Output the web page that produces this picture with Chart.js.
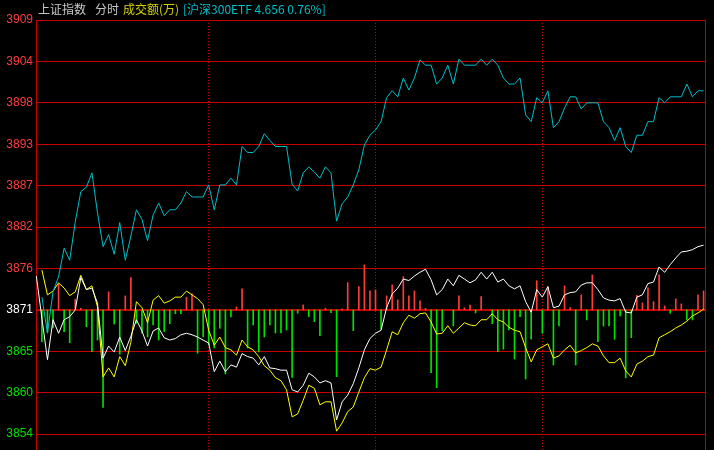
<!DOCTYPE html>
<html>
<head>
<meta charset="utf-8">
<script src="https://cdn.jsdelivr.net/npm/chart.js@4.4.0/dist/chart.umd.min.js"></script>
<style>
  html, body { margin: 0; padding: 0; background: #000; }
  #wrap { position: relative; width: 714px; height: 450px; }
  #chart { display: block; }
  #hdr { position: absolute; left: 0; top: 1px; font: 12px "Noto Sans CJK SC", sans-serif; line-height: 16px; white-space: nowrap; }
  #hdr span { position: absolute; top: 0; }
</style>
</head>
<body>
<div id="wrap">
  <canvas id="chart" width="714" height="450"></canvas>
  <div id="hdr">
    <span style="left:38px;color:#c8c8c8">上证指数</span>
    <span style="left:95px;color:#c8c8c8">分时</span>
    <span style="left:123px;color:#d2d200">成交额(万)</span>
    <span style="left:183px;color:#00bec8">[沪深300ETF 4.656 0.76%]</span>
  </div>
</div>
<script>
/* ================= DATA ================= */

// previous close and the step between price lines
const MID = 3871;
const STEP = 5.5;
const Y_MIN = 3852.4;
const Y_MAX = 3909.5;

const yTickLabels = ["3854", "3860", "3865", "3871", "3876", "3882", "3887", "3893", "3898", "3904", "3909"];

// sample index (2 min each) where the hour separators sit
const hourTicks = [31, 61, 91];

// 上证指数 (white)
const indexLine = [
  3875.5, 3869.9, 3864.4, 3869.7, 3867.9, 3869.7, 3870.1, 3871.0, 3875.3, 3873.7,
  3873.9, 3871.9, 3864.6, 3866.2, 3865.4, 3867.4, 3865.6, 3867.5, 3869.7, 3868.2,
  3866.2, 3868.2, 3868.6, 3867.3, 3867.0, 3867.2, 3867.7, 3867.9, 3867.7, 3867.4,
  3867.0, 3866.6, 3862.8, 3864.2, 3862.8, 3863.7, 3863.4, 3865.2, 3864.8, 3864.6,
  3863.7, 3864.8, 3863.3, 3863.2, 3863.0, 3863.0, 3860.4, 3860.1, 3861.0, 3862.6,
  3862.1, 3861.3, 3861.6, 3861.3, 3856.4, 3858.8, 3859.7, 3861.2, 3863.3, 3865.7,
  3867.2, 3867.9, 3868.3, 3871.3, 3873.1, 3873.9, 3875.1, 3874.9, 3875.5, 3876.0,
  3876.4, 3875.0, 3873.0, 3873.7, 3875.1, 3874.2, 3875.6, 3875.1, 3874.6, 3875.0,
  3876.0, 3875.1, 3876.0, 3874.7, 3875.1, 3874.2, 3873.8, 3874.2, 3872.1, 3870.7,
  3873.7, 3872.7, 3874.1, 3871.3, 3871.5, 3873.0, 3873.3, 3873.4, 3874.3, 3874.6,
  3874.6, 3873.7, 3872.6, 3872.3, 3872.2, 3872.5, 3870.7, 3870.6, 3872.7, 3873.0,
  3874.5, 3874.7, 3876.7, 3876.0, 3877.0, 3877.9, 3878.7, 3878.8, 3879.0, 3879.4,
  3879.6
];

// average price (yellow)
const avgLine = [
  null, 3876.3, 3873.0, 3873.5, 3874.6, 3873.9, 3872.9, 3873.4, 3875.6, 3873.7,
  3874.2, 3871.4, 3862.1, 3863.3, 3862.1, 3864.8, 3863.6, 3866.7, 3872.1, 3871.3,
  3869.3, 3872.3, 3872.9, 3871.9, 3872.2, 3872.7, 3872.7, 3873.5, 3873.0, 3872.5,
  3871.7, 3868.3, 3866.3, 3867.4, 3866.0, 3865.7, 3865.0, 3867.0, 3866.1, 3865.7,
  3864.8, 3863.6, 3863.0, 3862.0, 3861.6, 3860.4, 3856.8, 3857.2, 3859.0, 3861.0,
  3860.6, 3858.4, 3858.8, 3858.8, 3854.9, 3856.0, 3857.5, 3858.1, 3860.1, 3862.0,
  3863.2, 3863.0, 3863.4, 3865.7, 3868.1, 3867.7, 3869.3, 3870.3, 3869.9, 3870.5,
  3870.6, 3869.4, 3867.8, 3867.9, 3868.9, 3867.9, 3868.6, 3869.3, 3869.0, 3868.9,
  3869.7, 3869.7, 3870.5, 3869.7, 3869.4, 3868.7, 3868.3, 3868.1, 3866.0, 3864.1,
  3865.7, 3866.1, 3866.5, 3864.6, 3864.9, 3865.7, 3866.3, 3865.3, 3865.6, 3866.0,
  3866.5, 3866.2, 3864.9, 3864.0, 3864.0, 3864.6, 3862.9, 3862.1, 3863.8, 3864.2,
  3864.8, 3865.0, 3867.3, 3867.7, 3868.1, 3868.6, 3869.0, 3869.5, 3870.2, 3870.6,
  3871.1
];

// 沪深300ETF mapped onto the index scale (cyan)
const etfLine = [
  null, 3872.7, 3867.9, 3873.4, 3875.4, 3879.2, 3877.6, 3882.7, 3886.7, 3887.3,
  3889.2, 3883.9, 3879.4, 3881.0, 3878.4, 3882.6, 3877.6, 3880.8, 3884.3, 3883.0,
  3880.2, 3883.6, 3885.2, 3883.5, 3884.3, 3884.3, 3885.2, 3886.7, 3886.0, 3886.0,
  3886.0, 3887.6, 3884.3, 3887.6, 3887.6, 3888.5, 3887.6, 3892.7, 3891.9, 3891.9,
  3892.7, 3894.4, 3893.5, 3892.7, 3892.7, 3892.7, 3887.7, 3886.8, 3889.2, 3890.0,
  3889.3, 3888.5, 3890.0, 3889.2, 3882.8, 3885.1, 3886.0, 3887.6, 3889.6, 3892.9,
  3894.2, 3894.9, 3896.0, 3899.2, 3900.1, 3899.3, 3901.8, 3900.2, 3901.8, 3904.2,
  3903.5, 3903.5, 3901.0, 3901.8, 3903.5, 3901.0, 3904.3, 3903.5, 3903.5, 3903.5,
  3904.3, 3903.5, 3904.3, 3903.5, 3901.8, 3901.0, 3901.0, 3901.8, 3896.9, 3896.0,
  3899.2, 3898.5, 3900.1, 3895.2, 3896.0, 3897.8, 3899.3, 3899.3, 3897.7, 3898.5,
  3898.5, 3898.5, 3896.0, 3895.2, 3893.5, 3895.2, 3892.7, 3891.9, 3894.2, 3894.2,
  3896.0, 3896.0, 3899.2, 3898.5, 3899.3, 3899.3, 3899.3, 3901.0, 3899.3, 3900.1,
  3900.1
];

// red / green strength bars, offset from MID
const barDiffs = [
  0, -4.21, -2.92, -2.39, 3.45, -2.88, -4.34, 1.42, 0.23, -2.22,
  -5.54, -3.99, -12.93, 2.39, -1.86, -5.89, 1.86, 4.29, -1.79, -3.10,
  -3.59, -1.99, -3.99, -2.88, -1.82, -0.49, -0.49, 1.66, 2.13, -5.75,
  -3.59, -4.65, -5.05, -2.43, -8.50, -0.93, 0.40, 2.79, -5.05, -1.99,
  -5.58, -3.59, -1.99, -3.06, -3.06, -2.66, -8.97, -0.44, 0.66, -0.89,
  -1.55, -3.41, 0.23, -0.36, -8.86, 0.13, 3.63, -2.75, 3.10, 5.98,
  2.52, 2.66, -2.52, 1.86, 3.32, 1.33, 4.42, 1.86, 2.52, 1.20,
  0.20, -8.33, -10.32, -2.79, 0, -2.13, 1.86, 0.27, 0.66, -0.40,
  1.77, 0, -1.82, -5.54, -5.22, -2.66, -6.51, -0.89, -9.17, -3.88,
  3.88, -3.10, 3.06, -7.31, -2.13, 3.19, 0.31, -7.31, 1.99, -1.33,
  4.65, -4.21, -2.13, -2.13, -3.89, -0.80, -9.03, -3.68, 1.93, 0.93,
  2.92, 1.10, 4.65, 0.53, -0.44, 1.46, 0.80, -1.33, -1.33, 1.99,
  2.52
];

/* ================= CHART ================= */

const GRID = "#c80000";
const RED = "#ff3c3c";
const GREEN = "#00e100";
const CYAN = "#00bec8";

const toXY = arr => arr.map((v, i) => ({ x: i, y: v }));

const bars = barDiffs
  .map((d, i) => ({ x: i, y: [MID, MID + d] }))
  .filter(p => p.y[1] !== MID);

const yTicks = yTickLabels.map((_, k) => MID + (k - 3) * STEP);

const lineStyle = { borderWidth: 1, pointRadius: 0, tension: 0, fill: false };

new Chart(document.getElementById("chart"), {
  type: "bar",
  data: {
    datasets: [
      { type: "line", label: "沪深300ETF", data: toXY(etfLine), borderColor: CYAN, order: 0, ...lineStyle },
      { type: "line", label: "上证指数", data: toXY(indexLine), borderColor: "#ffffff", order: 1, ...lineStyle },
      { type: "line", label: "均价", data: toXY(avgLine), borderColor: "#ffff00", order: 2, ...lineStyle },
      {
        type: "bar",
        label: "强弱",
        data: bars,
        backgroundColor: c => (c.raw && c.raw.y[1] >= MID ? RED : GREEN),
        borderWidth: 0,
        barThickness: 1,
        order: 3
      }
    ]
  },
  options: {
    responsive: false,
    animation: false,
    layout: { padding: { top: 20, right: 0, bottom: 0, left: 0 } },
    plugins: { legend: { display: false }, tooltip: { enabled: false } },
    scales: {
      x: {
        type: "linear",
        min: -0.06,
        max: 120.26,
        offset: false,
        grid: { offset: false, color: GRID, lineWidth: 1, drawTicks: false },
        border: { display: false, dash: [1, 2] },
        ticks: { display: false },
        afterBuildTicks: s => { s.ticks = hourTicks.map(v => ({ value: v })); },
        afterFit: s => { s.height = 0; s.paddingLeft = 0; s.paddingRight = 0; }
      },
      y: {
        type: "linear",
        position: "left",
        min: Y_MIN,
        max: Y_MAX,
        beginAtZero: false,
        grid: {
          color: GRID,
          drawTicks: false,
          lineWidth: c => (c.tick && c.tick.value === MID ? 2 : 1)
        },
        border: { display: true, color: GRID, width: 1 },
        ticks: {
          padding: 3,
          autoSkip: false,
          font: { family: '"Liberation Sans", Arial, sans-serif', size: 12 },
          color: c => (c.tick.value > MID ? RED : c.tick.value < MID ? GREEN : "#ffffff"),
          callback: (v, i) => yTickLabels[i]
        },
        afterBuildTicks: s => { s.ticks = yTicks.map(v => ({ value: v })); },
        afterFit: s => { s.width = 36; s.paddingTop = 0; s.paddingBottom = 0; }
      },
      y2: {
        type: "linear",
        position: "right",
        grid: { display: false },
        ticks: { display: false },
        border: { display: true, color: GRID, width: 1 },
        afterFit: s => { s.width = 9; s.paddingTop = 0; s.paddingBottom = 0; }
      }
    }
  }
});
</script>
</body>
</html>
